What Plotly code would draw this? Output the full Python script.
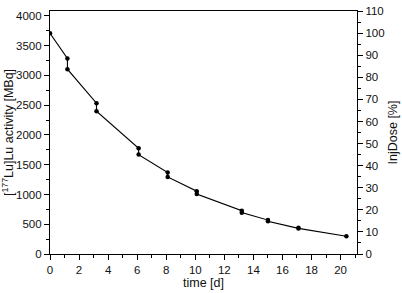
import plotly.graph_objects as go

time_d = [0, 1.2, 1.2, 3.2, 3.2, 6.1, 6.1, 8.1, 8.1, 10.1, 10.1, 13.2, 13.2, 15.0, 15.0, 17.1, 17.1, 20.4]
activity_mbq = [3710, 3285, 3105, 2535, 2400, 1775, 1670, 1370, 1295, 1055, 1008, 728, 695, 570, 550, 440, 430, 298]
initial_activity = 3710
injdose_pct = [a / initial_activity * 100 for a in activity_mbq]

fig = go.Figure()
fig.add_trace(go.Scatter(
    x=time_d, y=activity_mbq, mode="lines+markers",
    line=dict(color="black", width=1.1),
    marker=dict(color="black", size=4.5),
    showlegend=False, hoverinfo="skip"))
fig.add_trace(go.Scatter(
    x=time_d, y=injdose_pct, mode="markers", yaxis="y2",
    marker=dict(opacity=0), showlegend=False, hoverinfo="skip"))

font = dict(family="Liberation Sans, Arial, sans-serif", color="#111111", size=11.5)
title_font = dict(family="Liberation Sans, Arial, sans-serif", color="#111111", size=12.5)
common = dict(showgrid=False, zeroline=False, showline=True, linecolor="black",
              linewidth=1.2, ticks="outside", ticklen=5, tickcolor="black",
              tickwidth=1.2, tickfont=font)

fig.update_layout(
    width=402, height=293,
    margin=dict(l=50, r=40, t=5, b=37),
    paper_bgcolor="white", plot_bgcolor="white",
    font=font,
    xaxis=dict(range=[0, 21.13], dtick=2, tick0=0, mirror=True,
               minor=dict(ticks="outside", dtick=1, ticklen=3, tickcolor="black"),
               title=dict(text="time [d]", font=title_font, standoff=3),
               **common),
    yaxis=dict(range=[0, 4083], dtick=500, tick0=0, mirror=True,
               minor=dict(ticks="outside", dtick=250, ticklen=3, tickcolor="black"),
               title=dict(text="[<sup>177</sup>Lu]Lu activity [MBq]", font=title_font, standoff=2),
               **common),
    yaxis2=dict(range=[0, 110.05], dtick=10, tick0=0, overlaying="y", side="right",
                minor=dict(ticks="outside", dtick=5, ticklen=3, tickcolor="black"),
                title=dict(text="InjDose [%]", font=title_font, standoff=4),
                **common),
)

fig.write_html("out.html")
